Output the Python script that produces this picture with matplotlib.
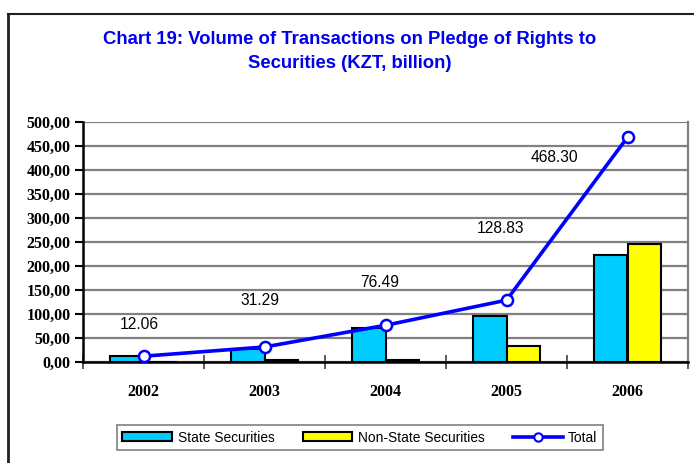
import numpy as np
import matplotlib
matplotlib.use("Agg")
import matplotlib.pyplot as plt
from matplotlib import font_manager
from matplotlib.patches import Patch
from matplotlib.lines import Line2D

years = ["2002", "2003", "2004", "2005", "2006"]
state = [12.06, 27.5, 71.5, 95.5, 222.5]
non_state = [0.0, 3.8, 5.0, 33.3, 245.8]
total = [12.06, 31.29, 76.49, 128.83, 468.30]
total_labels = ["12.06", "31.29", "76.49", "128.83", "468.30"]
yticks = np.arange(0, 501, 50)

# label offsets in pixels from the marker (layout only)
label_off = [(-4, 32), (-5, 46), (-6, 43), (-6, 72), (-73, -20)]

# narrow sans for labels, if we have it
try:
    font_manager.findfont("Liberation Sans Narrow", fallback_to_default=False)
    narrow = ["Liberation Sans Narrow", "DejaVu Sans"]
    nscale = 1.0
except Exception:
    narrow = ["Liberation Sans", "DejaVu Sans"]
    nscale = 0.9
serif = ["Liberation Serif", "DejaVu Serif"]

fig = plt.figure(figsize=(6.94, 4.63), dpi=100)
W, H = 694, 463
ax = fig.add_axes([83 / W, 1 - 362 / H, 605 / W, 240 / H])

x = np.arange(len(years))
bw = 0.28
ax.bar(x - bw / 2, state, bw, color="#00CCFF", edgecolor="black", linewidth=1.5, zorder=3)
ax.bar(x + bw / 2, non_state, bw, color="#FFFF00", edgecolor="black", linewidth=1.5, zorder=3)
ax.plot(x, total, color="#0000FF", linewidth=2.6, marker="o", markersize=8,
        markerfacecolor="white", markeredgecolor="#0000FF", markeredgewidth=1.8, zorder=4)

for i, lab in enumerate(total_labels):
    ax.annotate(lab, (x[i], total[i]), xytext=label_off[i], textcoords="offset pixels",
                ha="center", va="center", fontsize=12.5 * nscale, family=narrow, zorder=5)

ax.set_xlim(-0.5, 4.5)
ax.set_ylim(0, 500)
ax.set_yticks(yticks)
ax.set_yticklabels([f"{v:.2f}".replace(".", ",") for v in yticks],
                   fontsize=11.5, fontweight="bold", family=serif)
ax.set_xticks(x)
ax.set_xticklabels(years, fontsize=11.5, fontweight="bold", family=serif)
ax.tick_params(axis="x", length=0, pad=16)
ax.set_xticks(np.arange(-0.5, 5, 1), minor=True)
ax.tick_params(axis="x", which="minor", direction="inout", length=10, width=1.2, color="#404040")
ax.tick_params(axis="y", direction="out", length=6, width=1.5, pad=3)

ax.grid(axis="y", color="#808080", linewidth=1.6, zorder=0)
ax.set_axisbelow(True)
ax.spines["top"].set_visible(False)
ax.spines["right"].set_color("#808080")
ax.spines["right"].set_linewidth(1.6)
ax.spines["left"].set_linewidth(1.8)
ax.spines["bottom"].set_linewidth(1.8)

title_font = ["Liberation Sans", "DejaVu Sans"]
fig.text(350 / W, 1 - 40 / H, "Chart 19: Volume of Transactions on Pledge of Rights to",
         ha="center", va="center", fontsize=13.3, fontweight="bold", color="#0000EE",
         family=title_font)
fig.text(350 / W, 1 - 63 / H, "Securities (KZT, billion)",
         ha="center", va="center", fontsize=13.3, fontweight="bold", color="#0000EE",
         family=title_font)

# outer frame (cropped)
fig.add_artist(Line2D([8 / W, 1], [1 - 14 / H, 1 - 14 / H], color="#202020", linewidth=1.5))
fig.add_artist(Line2D([8 / W, 8 / W], [0, 1 - 14 / H], color="#202020", linewidth=2))

handles = [
    Patch(facecolor="#00CCFF", edgecolor="black", linewidth=1.5),
    Patch(facecolor="#FFFF00", edgecolor="black", linewidth=1.5),
    Line2D([], [], color="#0000FF", linewidth=2.6, marker="o", markersize=6,
           markerfacecolor="white", markeredgecolor="#0000FF", markeredgewidth=1.5),
]
leg = fig.legend(handles, ["State Securities", "Non-State Securities", "Total"], ncol=3,
                 loc="lower left", bbox_to_anchor=(117 / W, 1 - 450 / H, 486 / W, 31 / H),
                 mode="expand", frameon=True, fancybox=False, handlelength=3.6,
                 handleheight=0.55, handletextpad=0.4, borderaxespad=0,
                 prop={"family": narrow, "size": 11 * nscale})
leg.get_frame().set_edgecolor("#606060")
leg.get_frame().set_linewidth(1.2)

fig.savefig("out.png", dpi=100)
